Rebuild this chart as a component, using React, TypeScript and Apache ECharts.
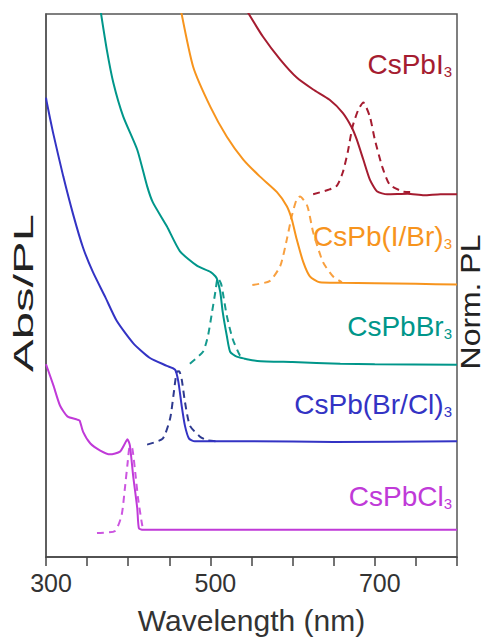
import React, { useEffect, useRef } from "react";
import * as echarts from "echarts";

// ---- data (wavelength nm, normalized intensity with vertical offsets) ----
const xTickLabels = [300, 500, 700];

const absCsPbI3 = [[544,100.7],[564,95.8],[585,91.6],[605,88.3],[625,86.1],[645,84.2],[661,81.8],[672,79.1],[678,76.9],[686,73.2],[694,69.5],[703,67.3],[715,66.8],[740,66.9],[760,66.6],[780,66.8],[800,66.8]];
const plCsPbI3 = [[625,66.8],[645,67.7],[654,68.4],[661,70.8],[667,74.5],[673,79.3],[680,82.4],[686,83.7],[694,81.1],[700,76.9],[709,71.9],[718,68.6],[734,67.3],[743,67.2]];

const absCsPbIBr = [[464,100.8],[479,90.3],[500,82.9],[520,77.4],[540,73.2],[560,70.1],[581,67.2],[593,64.6],[599,62.2],[605,58.5],[613,54.3],[621,51.7],[633,50.6],[658,50.5],[700,50.4],[750,50.3],[800,50.2]];
const plCsPbIBr = [[551,50.1],[572,50.8],[585,53.6],[593,58.5],[599,62.8],[605,65.9],[609,66.4],[618,64.6],[625,59.8],[637,54.3],[649,51.7],[660,50.6]];

const absCsPbBr = [[366,101],[374,93.4],[382,87.3],[394,81.1],[411,75.0],[423,68.3],[430,65.3],[447,60.9],[463,56.3],[484,53.6],[500,52.5],[506,51.7],[508,51.2],[512,48.8],[515,45.1],[520,40.7],[524,37.8],[532,36.9],[557,36.1],[600,35.9],[658,35.6],[700,35.5],[800,35.4]];
const plCsPbBr = [[475,35.6],[491,37.8],[497,40.7],[502,45.1],[506,48.8],[509,51.4],[513,50.3],[515,48.8],[520,44.4],[527,40.2],[536,37.1],[542,36.5]];

const absCsPbBrCl = [[300,84.6],[301,83.7],[308.5,78.2],[321,70.1],[333,63.1],[345,57.0],[357,52.5],[372,47.9],[386,43.5],[406,39.4],[426,36.7],[447,35.2],[457,34.5],[461,32.3],[465,27.9],[469,24.2],[474,21.8],[481,21.3],[550,21.3],[650,21.2],[800,21.3]];
const plCsPbBrCl = [[423,20.7],[442,21.8],[451,25.5],[455,29.7],[459,34.1],[462,34.2],[465,32.8],[469,28.6],[475,24.2],[487,22.2],[496,21.5],[508,21.3]];

const absCsPbCl = [[300,35.5],[309,31.6],[317,27.9],[326,25.9],[338,25.3],[341,25.1],[345,23.1],[354,20.9],[366,19.6],[378,18.9],[390,19.4],[396,20.9],[399,21.7],[402,20.6],[406,15.0],[411,9.0],[413,5.3],[418,5.0],[500,5.0],[650,5.0],[800,5.0]];
const plCsPbCl = [[362,4.4],[384,4.8],[392,7.7],[396,12.7],[399,16.9],[402,20.4],[405,20.0],[409,15.0],[412,10.8],[417,5.9],[419,5.0]];

const compounds = [
  { main: "CsPbI", sub: "3", abs: absCsPbI3, pl: plCsPbI3 },
  { main: "CsPb(I/Br)", sub: "3", abs: absCsPbIBr, pl: plCsPbIBr },
  { main: "CsPbBr", sub: "3", abs: absCsPbBr, pl: plCsPbBr },
  { main: "CsPb(Br/Cl)", sub: "3", abs: absCsPbBrCl, pl: plCsPbBrCl },
  { main: "CsPbCl", sub: "3", abs: absCsPbCl, pl: plCsPbCl },
];

// ---- styling ----
const FONT = "'Liberation Sans', Arial, Helvetica, sans-serif";
const absColors = ["#a51c30", "#f7941d", "#00968a", "#3333c4", "#c03ad8"];
const plColors = ["#a51c30", "#f8a040", "#159a8e", "#2e3a8f", "#cc55e0"];
const labelTops = [50, 222, 312, 390, 482];

export default function App() {
  const ref = useRef<HTMLDivElement>(null);
  useEffect(() => {
    if (!ref.current) return;
    const chart = echarts.init(ref.current, null, { renderer: "svg" });
    const series: any[] = [];
    compounds.forEach((c, i) => {
      series.push({
        name: c.main + c.sub + " Abs",
        type: "line",
        data: c.abs,
        showSymbol: false,
        smooth: 0.2,
        lineStyle: { color: absColors[i], width: 2 },
        itemStyle: { color: absColors[i] },
        z: 3,
      });
      series.push({
        name: c.main + c.sub + " PL",
        type: "line",
        data: c.pl,
        showSymbol: false,
        smooth: 0.2,
        lineStyle: { color: plColors[i], width: 2, type: [7, 5] },
        itemStyle: { color: plColors[i] },
        z: 2,
      });
    });

    const graphics: any[] = compounds.map((c, i) => ({
      type: "text",
      right: 32,
      top: labelTops[i],
      style: {
        text: `{m|${c.main}}{s|${c.sub}}`,
        rich: {
          m: { fontSize: 28, lineHeight: 30, fontFamily: FONT, fill: absColors[i], color: absColors[i] },
          s: { fontSize: 15, lineHeight: 15, fontFamily: FONT, fill: absColors[i], color: absColors[i], verticalAlign: "bottom" },
        },
      },
    }));
    graphics.push({
      type: "text",
      x: 23,
      y: 293,
      rotation: Math.PI / 2,
      scaleX: 1.75,
      style: { text: "Abs/PL", fontSize: 28, fontFamily: FONT, fill: "#222", align: "center", verticalAlign: "middle" },
    });
    graphics.push({
      type: "text",
      x: 470,
      y: 302,
      rotation: Math.PI / 2,
      scaleX: 1.14,
      style: { text: "Norm. PL", fontSize: 28, fontFamily: FONT, fill: "#222", align: "center", verticalAlign: "middle" },
    });

    chart.setOption({
      animation: false,
      backgroundColor: "#ffffff",
      grid: { left: 46, right: 27, top: 14, bottom: 81, show: true, borderColor: "#555", borderWidth: 1.5, backgroundColor: "transparent" },
      xAxis: {
        type: "value",
        min: 300,
        max: 800,
        interval: 50,
        name: "Wavelength (nm)",
        nameLocation: "middle",
        nameGap: 48,
        nameTextStyle: { fontSize: 30, color: "#333", fontFamily: FONT },
        axisLine: { lineStyle: { color: "#444", width: 1.5 } },
        axisTick: { inside: false, length: 9, lineStyle: { color: "#444", width: 1.5 } },
        axisLabel: {
          fontSize: 25,
          color: "#333",
          fontFamily: FONT,
          margin: 13,
          padding: [0, 0, 0, 10],
          formatter: (v: number) => (xTickLabels.includes(v) ? String(v) : ""),
        },
        splitLine: { show: false },
      },
      yAxis: {
        type: "value",
        min: 0,
        max: 100,
        axisLine: { show: true, lineStyle: { color: "#555", width: 1.5 } },
        axisTick: { show: false },
        axisLabel: { show: false },
        splitLine: { show: false },
      },
      series,
      graphic: graphics,
    });
    return () => chart.dispose();
  }, []);
  return <div ref={ref} style={{ position: "fixed", left: 0, top: 0, width: 484, height: 640 }} />;
}
